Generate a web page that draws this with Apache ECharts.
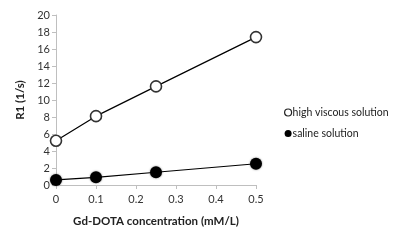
<!DOCTYPE html>
<html><head><meta charset="utf-8">
<script src="https://cdn.jsdelivr.net/npm/echarts@6/dist/echarts.min.js"></script>
<style>html,body{margin:0;padding:0;background:#fff}#c{width:400px;height:240px}</style>
</head><body><div id="c"></div>
<script>
const concentrations = [0, 0.1, 0.25, 0.5];
const highViscous = [5.2, 8.1, 11.6, 17.4];
const saline = [0.6, 0.9, 1.5, 2.5];
const seriesNames = ['high viscous solution', 'saline solution'];
const xTitle = 'Gd-DOTA concentration (mM/L)';
const yTitle = 'R1 (1/s)';

const font = 'Lato, "Open Sans", sans-serif';
const chart = echarts.init(document.getElementById('c'), null, {renderer: 'canvas'});
const pairs = a => concentrations.map((x, i) => [x, a[i]]);
chart.setOption({
  animation: false,
  grid: {left: 56, right: 144, top: 15, bottom: 55},
  legend: {
    orient: 'vertical', left: 279, top: 102, itemGap: 10,
    itemWidth: 7, itemHeight: 12,
    textStyle: {fontFamily: font, fontSize: 10.5, color: '#222', padding: [0, 0, 0, -4]},
    data: [
      {name: seriesNames[0], icon: 'circle', itemStyle: {color: '#fff', borderColor: '#222', borderWidth: 1.2}},
      {name: seriesNames[1], icon: 'circle', itemStyle: {color: '#000'}}
    ]
  },
  xAxis: {
    type: 'value', min: 0, max: 0.5, interval: 0.1,
    name: xTitle, nameLocation: 'middle', nameGap: 30,
    nameTextStyle: {fontFamily: font, fontSize: 11.5, fontWeight: 'bold', color: '#222'},
    axisLine: {lineStyle: {color: '#bfbfbf'}},
    axisTick: {show: true, length: 4, lineStyle: {color: '#bfbfbf'}},
    axisLabel: {fontFamily: font, fontSize: 11, color: '#333', margin: 9},
    splitLine: {show: false}
  },
  yAxis: {
    type: 'value', min: 0, max: 20, interval: 2,
    name: yTitle, nameLocation: 'middle', nameGap: 30,
    nameTextStyle: {fontFamily: font, fontSize: 11.5, fontWeight: 'bold', color: '#222'},
    axisLine: {show: true, lineStyle: {color: '#bfbfbf'}},
    axisTick: {show: true, length: 4, lineStyle: {color: '#bfbfbf'}},
    axisLabel: {fontFamily: font, fontSize: 11, color: '#333', margin: 6},
    splitLine: {show: false}
  },
  series: [
    {
      name: seriesNames[0], type: 'line', data: pairs(highViscous),
      symbol: 'circle', symbolSize: 11,
      lineStyle: {color: '#000', width: 1.2},
      itemStyle: {color: '#fff', borderColor: '#333', borderWidth: 1.6}
    },
    {
      name: seriesNames[1], type: 'line', data: pairs(saline),
      symbol: 'circle', symbolSize: 12,
      lineStyle: {color: '#000', width: 1.2},
      itemStyle: {color: '#000', shadowBlur: 2, shadowColor: 'rgba(0,0,0,0.5)'}
    }
  ]
});
</script></body></html>
